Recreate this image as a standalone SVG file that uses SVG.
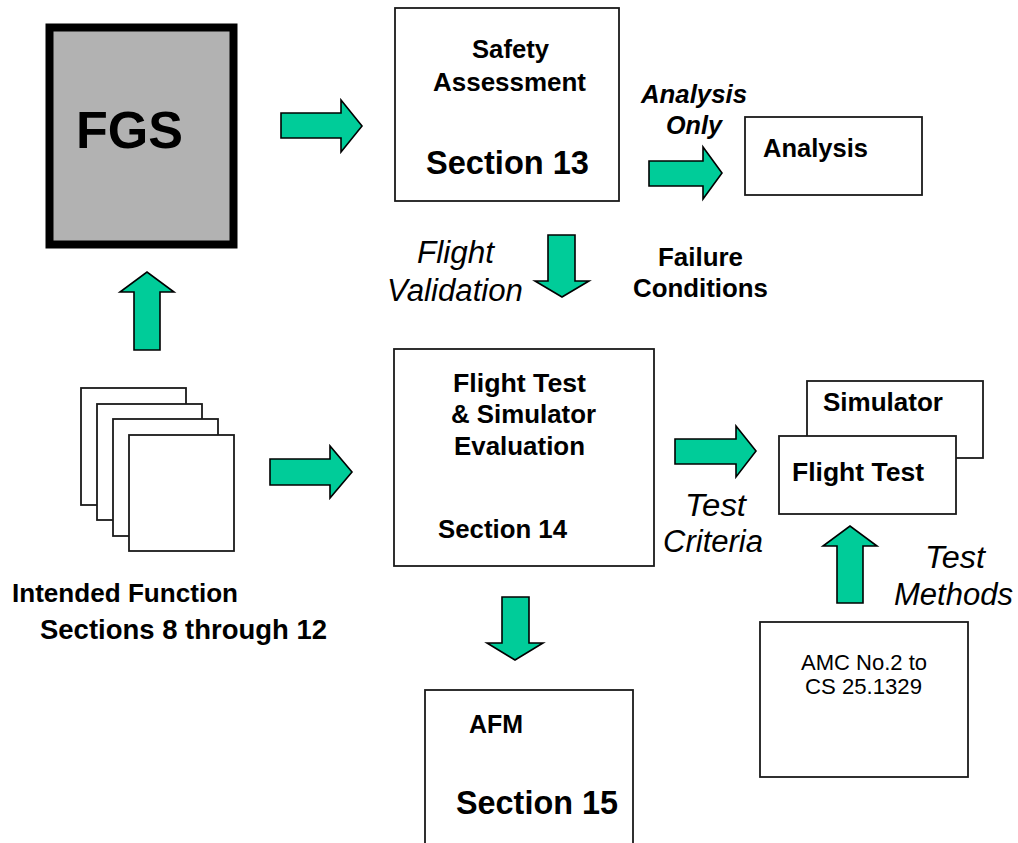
<svg xmlns="http://www.w3.org/2000/svg" width="1018" height="843" viewBox="0 0 1018 843">
<style>
.box{fill:#fff;stroke:#1a1a1a;stroke-width:1.8}
.arr{fill:#00cc99;stroke:#000;stroke-width:1.6;stroke-linejoin:miter}
text{font-family:"Liberation Sans",Arial,sans-serif;fill:#000}
.b{font-weight:bold;font-size:26px}
.bi{font-weight:bold;font-style:italic;font-size:26px}
.i{font-style:italic;font-size:31px}
.r{font-size:22px}
.big{font-weight:bold;font-size:32.5px}
</style>
<rect width="1018" height="843" fill="#fff"/>
<g id="fgs">
<rect x="49.5" y="27.5" width="184" height="217" fill="#b2b2b2" stroke="#000" stroke-width="8"/>
<text x="76" y="148" style="font-weight:bold;font-size:52px" textLength="107" lengthAdjust="spacingAndGlyphs">FGS</text>
</g>
<g id="safety">
<rect class="box" x="395" y="8" width="224" height="193"/>
<text class="b" x="472" y="58" textLength="77" lengthAdjust="spacingAndGlyphs">Safety</text>
<text class="b" x="433" y="91" textLength="153" lengthAdjust="spacingAndGlyphs">Assessment</text>
<text class="big" x="426" y="174" textLength="163" lengthAdjust="spacingAndGlyphs">Section 13</text>
</g>
<g id="analysis">
<rect class="box" x="745" y="117" width="177" height="78"/>
<text class="b" x="763" y="157" textLength="105" lengthAdjust="spacingAndGlyphs">Analysis</text>
</g>
<g id="pages">
<rect class="box" x="81" y="388" width="105" height="117"/>
<rect class="box" x="97" y="404" width="105" height="116"/>
<rect class="box" x="113" y="419" width="105" height="117"/>
<rect class="box" x="129" y="435" width="105" height="116"/>
<text class="b" x="12" y="602" textLength="226" lengthAdjust="spacingAndGlyphs">Intended Function</text>
<text class="b" x="40" y="639" style="font-size:27.5px" textLength="287" lengthAdjust="spacingAndGlyphs">Sections 8 through 12</text>
</g>
<g id="flighttest-eval">
<rect class="box" x="394" y="349" width="260" height="217"/>
<text class="b" x="453" y="392" textLength="133" lengthAdjust="spacingAndGlyphs">Flight Test</text>
<text class="b" x="451" y="423" textLength="145" lengthAdjust="spacingAndGlyphs">&amp; Simulator</text>
<text class="b" x="454" y="455" textLength="131" lengthAdjust="spacingAndGlyphs">Evaluation</text>
<text class="b" x="438" y="538" textLength="129" lengthAdjust="spacingAndGlyphs">Section 14</text>
</g>
<g id="simulator">
<rect class="box" x="807" y="381" width="176" height="77"/>
<text class="b" x="823" y="411" textLength="120" lengthAdjust="spacingAndGlyphs">Simulator</text>
</g>
<g id="flighttest">
<rect class="box" x="779" y="436" width="177" height="78"/>
<text class="b" x="792" y="481" textLength="132" lengthAdjust="spacingAndGlyphs">Flight Test</text>
</g>
<g id="amc">
<rect class="box" x="760" y="622" width="208" height="155"/>
<text class="r" x="801" y="670" textLength="126" lengthAdjust="spacingAndGlyphs">AMC No.2 to</text>
<text class="r" x="805" y="694" textLength="117" lengthAdjust="spacingAndGlyphs">CS 25.1329</text>
</g>
<g id="afm">
<rect class="box" x="425" y="690" width="208" height="170"/>
<text class="b" x="469" y="733" textLength="54" lengthAdjust="spacingAndGlyphs">AFM</text>
<text class="big" x="456" y="814" textLength="162" lengthAdjust="spacingAndGlyphs">Section 15</text>
</g>
<g id="connectors">
<polygon class="arr" points="281,113 341,113 341,100 362,126 341,152 341,138 281,138"/>
<polygon class="arr" points="134,350 134,292 120,292 147,272 174,292 160,292 160,350"/>
<polygon class="arr" points="649,161 703,161 703,147 722,173 703,199 703,186 649,186"/>
<polygon class="arr" points="548,235 575,235 575,281 589,281 562,297 535,281 548,281"/>
<polygon class="arr" points="270,459 330,459 330,446 352,472 330,498 330,485 270,485"/>
<polygon class="arr" points="675,439 736,439 736,426 756,451 736,477 736,464 675,464"/>
<polygon class="arr" points="837,603 837,546 823,546 850,526 877,546 863,546 863,603"/>
<polygon class="arr" points="502,597 529,597 529,643 543,643 515,660 487,643 502,643"/>
</g>
<g id="labels">
<text class="bi" x="641" y="103" textLength="106" lengthAdjust="spacingAndGlyphs">Analysis</text>
<text class="bi" x="666" y="134" textLength="56" lengthAdjust="spacingAndGlyphs">Only</text>
<text class="i" x="417" y="263" textLength="77" lengthAdjust="spacingAndGlyphs">Flight</text>
<text class="i" x="387" y="301" textLength="136" lengthAdjust="spacingAndGlyphs">Validation</text>
<text class="b" x="658" y="266" textLength="85" lengthAdjust="spacingAndGlyphs">Failure</text>
<text class="b" x="633" y="297" textLength="135" lengthAdjust="spacingAndGlyphs">Conditions</text>
<text class="i" x="685" y="516" textLength="61" lengthAdjust="spacingAndGlyphs">Test</text>
<text class="i" x="663" y="552" textLength="100" lengthAdjust="spacingAndGlyphs">Criteria</text>
<text class="i" x="925" y="568" textLength="60" lengthAdjust="spacingAndGlyphs">Test</text>
<text class="i" x="894" y="605" textLength="119" lengthAdjust="spacingAndGlyphs">Methods</text>
</g>
</svg>
